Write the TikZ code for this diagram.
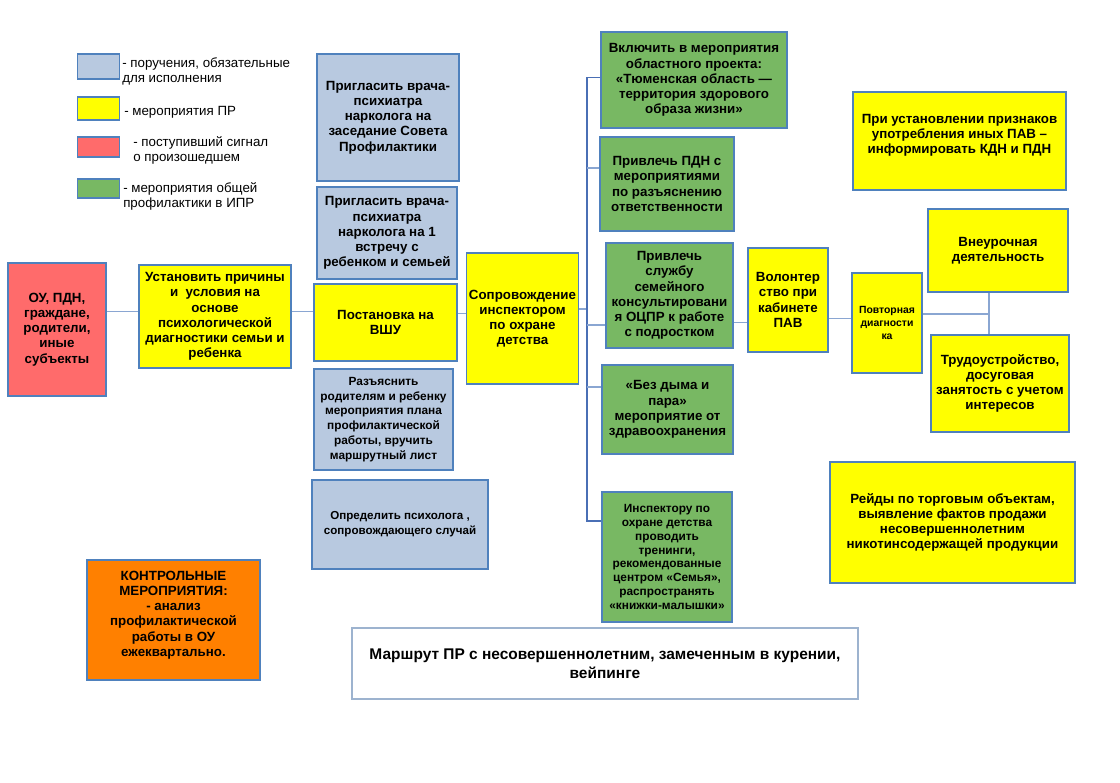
\documentclass[tikz,border=0pt]{standalone}
\usepackage{fontspec}
\setmainfont{Liberation Sans}
\definecolor{frame}{HTML}{4F81BD}
\definecolor{orderfill}{HTML}{B8C9E0}
\definecolor{prfill}{HTML}{FFFF00}
\definecolor{signalfill}{HTML}{FF6B6B}
\definecolor{generalfill}{HTML}{78B863}
\definecolor{controlfill}{HTML}{FF8000}
\definecolor{linkcol}{HTML}{8AA6D2}
\definecolor{buscol}{HTML}{4A6FB5}
\definecolor{titleframe}{HTML}{9DB3CF}

\begin{document}
\begin{tikzpicture}[x=0.75pt, y=-0.75pt,
  box/.style = {draw=frame, line width=0.8pt, align=center, inner sep=2pt, font=\bfseries\fontsize{10}{11.4}\selectfont},
  wh/.style 2 args = {minimum width=#1*0.75pt, minimum height=#2*0.75pt},
  order/.style = {box, fill=orderfill},
  prbox/.style = {box, fill=prfill},
  signal/.style = {box, fill=signalfill},
  general/.style = {box, fill=generalfill},
  swatch/.style = {draw=frame, line width=0.8pt, minimum width=31.5pt, minimum height=#1*0.75pt, inner sep=0pt},
  legend/.style = {align=left, anchor=west, inner sep=0pt, font=\fontsize{10}{11.3}\selectfont},
  link/.style = {draw=linkcol, line width=1pt}]
\path[fill=white, use as bounding box] (0,0) rectangle (1120,782);

% legend
\node[swatch=25, fill=orderfill] (lg order) at (98.5,66.5) {};
\node[swatch=23, fill=prfill] (lg pr) at (98.5,108.5) {};
\node[swatch=20, fill=signalfill] (lg signal) at (98.5,147) {};
\node[swatch=19, fill=generalfill] (lg general) at (98.5,188.5) {};
\node[legend] (lg order txt) at (122,71.5) {- поручения, обязательные\\для исполнения};
\node[legend] (lg pr txt) at (124,112) {- мероприятия ПР};
\node[legend] (lg signal txt) at (133,150.5) {- поступивший сигнал\\о произошедшем};
\node[legend] (lg general txt) at (123,196.5) {- мероприятия общей\\профилактики в ИПР};

% left column
\node[signal, wh={98}{133}] (source) at (57,329.5) {ОУ, ПДН,\\граждане,\\родители,\\иные\\субъекты};
\node[prbox, wh={152}{103}] (causes) at (215,316.5) {Установить причины\\и\ \ условия на\\основе\\психологической\\диагностики семьи и\\ребенка};
\node[box, fill=controlfill, wh={173}{120}, text depth=9.5pt] (control) at (173.5,620) {КОНТРОЛЬНЫЕ\\МЕРОПРИЯТИЯ:\\- анализ\\профилактической\\работы в ОУ\\ежеквартально.};

% second column
\node[order, wh={142}{127}] (council) at (388,117.5) {Пригласить врача-\\психиатра\\нарколога на\\заседание Совета\\Профилактики};
\node[order, wh={140}{92}] (meeting) at (387,233) {Пригласить врача-\\психиатра\\нарколога на 1\\встречу с\\ребенком и семьей};
\node[prbox, wh={143}{77}] (register) at (385.5,322.5) {Постановка на\\ВШУ};
\node[order, wh={139}{101}, font=\bfseries\fontsize{8.9}{11.1}\selectfont] (explain) at (383.5,419.5) {Разъяснить\\родителям и ребенку\\мероприятия плана\\профилактической\\работы, вручить\\маршрутный лист};
\node[order, wh={176}{89}, font=\bfseries\fontsize{8.7}{11.2}\selectfont] (psych) at (400,524.5) {Определить психолога ,\\сопровождающего случай};
\node[prbox, wh={111}{131}] (inspector) at (522.5,318.5) {Сопровождение\\инспектором\\по охране\\детства};

% green column
\node[general, wh={186}{96}] (project) at (694,80) {Включить в мероприятия\\областного проекта:\\«Тюменская область —\\территория здорового\\образа жизни»};
\node[general, wh={134}{94}] (pdn) at (667,184) {Привлечь ПДН с\\мероприятиями\\по разъяснению\\ответственности};
\node[general, wh={127}{105}] (family) at (669.5,295.5) {Привлечь\\службу\\семейного\\консультировани\\я ОЦПР к работе\\с подростком};
\node[general, wh={131}{89}] (nosmoke) at (667.5,409.5) {«Без дыма и\\пара»\\мероприятие от\\здравоохранения};
\node[general, wh={130}{130}, font=\bfseries\fontsize{8.9}{10.4}\selectfont] (trainings) at (667,557) {Инспектору по\\охране детства\\проводить\\тренинги,\\рекомендованные\\центром «Семья»,\\распространять\\«книжки-малышки»};

% right part
\node[prbox, wh={80}{104}] (volunteer) at (788,300) {Волонтер\\ство при\\кабинете\\ПАВ};
\node[prbox, wh={70}{100}, font=\bfseries\fontsize{7.8}{9.8}\selectfont] (repeat) at (887,323) {Повторная\\диагности\\ка};
\node[prbox, wh={140}{83}] (extra) at (998,250.5) {Внеурочная\\деятельность};
\node[prbox, wh={138}{97}] (work) at (1000,383.5) {Трудоустройство,\\досуговая\\занятость с учетом\\интересов};
\node[prbox, wh={213}{98}, text depth=11pt] (inform) at (959.5,141) {При установлении признаков\\употребления иных ПАВ –\\информировать КДН и ПДН};
\node[prbox, wh={245}{121}] (raids) at (952.5,522.5) {Рейды по торговым объектам,\\выявление фактов продажи\\несовершеннолетним\\никотинсодержащей продукции};

% title
\node[draw=titleframe, line width=0.8pt, fill=white, align=center, wh={506}{71}, font=\bfseries\fontsize{11.6}{14.2}\selectfont] (title) at (605,663.5) {Маршрут ПР с несовершеннолетним, замеченным в курении,\\вейпинге};

% connectors
\coordinate (bus) at (587,309);
\coordinate (fork) at (989,314);
\draw[link] ([yshift=4pt]causes.west -| source.east) -- ([yshift=4pt]causes.west);
\draw[link] ([yshift=4pt]causes.east) -- ([yshift=4pt]causes.east -| register.west);
\draw[link] ([yshift=7pt]register.east) -- ([yshift=7pt]register.east -| inspector.west);
\draw[link] (bus -| inspector.east) -- (bus);
\draw[buscol, line width=0.8pt] ([yshift=2pt]project.west) -| (bus) |- ([yshift=27pt]trainings.west);
\draw[link] ([yshift=12pt]pdn.west) -- ([yshift=12pt]pdn.west -| bus);
\draw[link] ([yshift=-22pt]family.west) -- ([yshift=-22pt]family.west -| bus);
\draw[link] ([yshift=17pt]nosmoke.west) -- ([yshift=17pt]nosmoke.west -| bus);
\draw[link] ([yshift=-20pt]family.east) -- ([yshift=-20pt]family.east -| volunteer.west);
\draw[link] ([yshift=-14pt]volunteer.east) -- ([yshift=-14pt]volunteer.east -| repeat.west);
\draw[link] (fork -| repeat.east) -- (fork);
\draw[link] (fork |- extra.south) -- (fork |- work.north);
\end{tikzpicture}
\end{document}
